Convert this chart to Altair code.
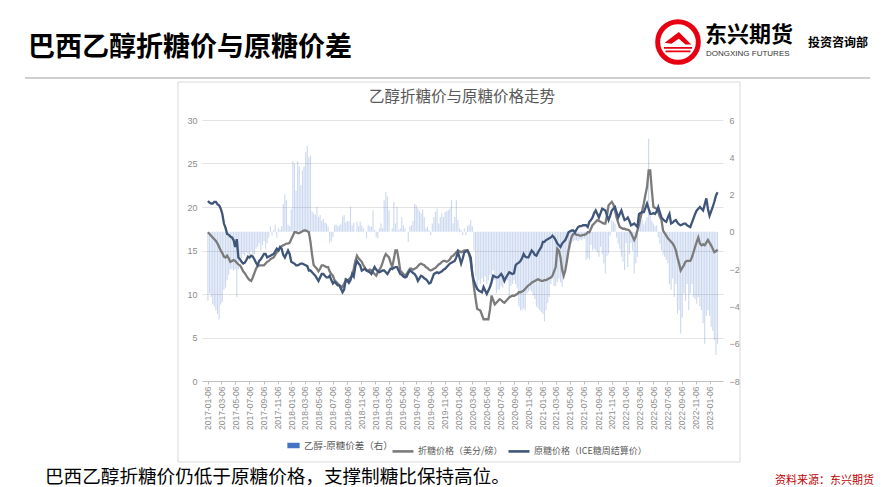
import altair as alt
import pandas as pd

# ---------------- data (weekly, Friday) ----------------
first_week = "2017-01-06"

raw_sugar = [
    20.7, 20.5, 20.4, 20.4, 20.6, 20.6, 20.3, 20.2, 19.8, 19.2,
    18.1, 17.6, 16.9, 16.8, 16.6, 16.5, 16.2, 15.4, 16.3, 14.2,
    14.0, 13.7, 13.5, 13.6, 13.9, 14.3, 14.2, 14.4, 14.3, 14.0,
    13.6, 13.3, 13.8, 14.0, 14.3, 14.6, 14.6, 14.2, 14.3, 14.4,
    14.5, 14.6, 14.9, 15.2, 15.0, 15.4, 15.2, 14.5, 14.2, 14.6,
    15.0, 14.6, 13.7, 13.6, 13.5, 13.3, 13.3, 13.4, 13.5, 13.5,
    13.4, 13.3, 13.2, 12.7, 12.7, 12.5, 12.3, 12.1, 11.8, 11.5,
    11.9, 12.3, 12.3, 12.1, 11.9, 11.9, 12.1, 11.6, 11.2, 11.4,
    11.2, 11.0, 11.0, 10.6, 10.2, 10.5, 11.7, 11.6, 11.3, 11.6,
    12.3, 12.0, 13.2, 13.8, 13.5, 13.3, 12.7, 12.8, 12.9, 12.7,
    12.6, 12.5, 12.3, 12.7, 13.1, 12.8, 12.6, 12.5, 12.6, 12.7,
    12.7, 12.5, 12.3, 12.6, 12.9, 12.9, 13.0, 13.1, 13.1, 12.7,
    12.3, 12.2, 12.0, 11.9, 12.0, 12.4, 12.7, 12.6, 12.4, 12.3,
    12.0, 11.5, 11.8, 12.1, 12.0, 11.8, 11.7, 11.5, 11.2, 11.3,
    11.8, 12.3, 12.4, 12.5, 12.4, 12.5, 12.6, 12.8, 12.9, 13.1,
    13.3, 13.5, 13.6, 13.7, 13.8, 14.2, 14.8, 14.2, 13.5, 14.1,
    14.8, 14.9, 15.0, 14.6, 14.2, 12.3, 11.5, 11.0, 10.6, 10.4,
    10.3, 10.2, 10.8, 10.4, 10.0, 10.4, 10.8, 11.4, 12.1, 12.0,
    11.9, 11.9, 12.1, 12.3, 12.0, 11.5, 11.9, 12.2, 12.5, 12.4,
    12.3, 12.4, 13.3, 13.5, 13.6, 13.8, 14.1, 14.6, 14.3, 14.2,
    14.2, 14.6, 15.0, 14.8, 14.5, 14.4, 14.8, 15.1, 15.4, 16.0,
    16.0, 16.2, 16.3, 16.4, 16.5, 16.7, 16.5, 16.2, 15.8, 15.6,
    15.4, 15.8, 16.0, 16.2, 16.6, 17.1, 17.2, 17.3, 17.3, 17.1,
    17.4, 17.7, 17.8, 17.8, 17.9, 17.9, 17.9, 17.7, 18.3, 18.5,
    18.8, 19.3, 19.6, 19.2, 18.8, 19.3, 19.8, 19.7, 19.6, 19.0,
    18.5, 19.0, 19.6, 19.8, 20.0, 19.4, 18.8, 19.2, 19.6, 19.0,
    18.5, 18.6, 18.8, 18.4, 17.9, 18.0, 18.1, 17.9, 17.7, 19.2,
    19.3, 19.4, 19.4, 19.9, 20.4, 19.8, 19.2, 19.2, 19.3, 19.2,
    19.5, 20.0, 19.4, 18.8, 18.6, 18.4, 18.3, 18.8, 19.2, 18.1,
    18.2, 18.4, 18.5, 18.2, 18.0, 17.9, 18.0, 18.1, 18.1, 17.9,
    17.8, 17.7, 18.2, 18.7, 19.2, 19.6, 19.8, 20.0, 19.8, 19.6,
    20.3, 21.0, 19.8, 19.0, 19.5, 20.0, 20.6, 21.3, 21.7,
]

ethanol_parity = [
    17.1, 16.9, 16.7, 16.5, 16.3, 16.1, 15.8, 15.4, 15.0, 14.7,
    14.3, 14.2, 14.4, 14.1, 13.7, 13.8, 13.9, 13.8, 13.6, 13.4,
    13.3, 13.0, 12.6, 12.4, 12.1, 11.8, 11.6, 11.5, 11.9, 12.4,
    12.9, 13.2, 13.3, 13.3, 13.3, 13.3, 13.5, 13.7, 13.8, 14.0,
    14.1, 14.2, 14.5, 14.8, 15.0, 15.3, 15.5, 15.6, 15.7, 15.8,
    15.8, 15.9, 16.3, 16.7, 17.1, 17.1, 17.0, 17.0, 17.1, 17.2,
    17.3, 17.3, 17.2, 17.1, 16.0, 14.5, 13.3, 13.1, 12.9, 12.6,
    12.9, 13.3, 13.3, 13.2, 13.1, 13.1, 12.6, 12.3, 12.1, 11.6,
    11.4, 11.2, 11.0, 10.9, 10.8, 11.2, 11.5, 11.4, 11.7, 11.9,
    12.1, 12.9, 13.8, 14.4, 14.1, 13.9, 13.7, 13.3, 13.0, 12.7,
    12.7, 12.8, 12.7, 12.5, 12.3, 12.1, 12.5, 12.8, 13.1, 13.6,
    14.2, 14.6, 14.4, 14.2, 13.6, 13.1, 14.0, 15.0, 15.0, 14.0,
    12.7, 12.5, 12.3, 12.1, 12.3, 12.6, 12.9, 12.9, 12.8, 12.9,
    13.0, 13.2, 13.4, 13.5, 13.4, 13.3, 13.1, 13.0, 12.8, 12.7,
    12.8, 12.9, 13.0, 13.2, 13.4, 13.5, 13.7, 13.8, 13.8, 13.7,
    13.8, 14.0, 14.3, 14.4, 14.6, 14.8, 15.0, 14.9, 14.8, 14.9,
    15.0, 15.0, 15.0, 14.6, 13.7, 12.3, 10.8, 9.5, 8.3, 8.2,
    8.1, 7.6, 7.1, 7.1, 7.1, 7.1, 8.2, 9.8, 9.3, 8.8,
    9.0, 9.2, 9.4, 9.3, 9.1, 9.0, 9.2, 9.4, 9.6, 9.7,
    9.8, 9.8, 9.9, 10.0, 10.2, 10.2, 10.3, 10.4, 10.6, 10.8,
    11.0, 11.1, 11.3, 11.4, 11.5, 11.6, 11.7, 11.6, 11.5, 11.5,
    11.6, 11.6, 11.7, 11.8, 11.9, 12.1, 12.6, 13.1, 15.2, 15.0,
    14.2, 12.8, 12.1, 12.7, 13.8, 15.0, 15.9, 16.6, 16.9, 16.9,
    16.8, 16.8, 16.7, 16.7, 16.8, 16.8, 16.9, 17.1, 17.1, 17.5,
    17.9, 18.1, 18.3, 18.5, 18.4, 18.3, 18.2, 18.1, 18.1, 19.0,
    20.2, 20.4, 20.6, 20.3, 19.6, 18.8, 18.2, 17.7, 17.6, 17.5,
    17.5, 17.4, 17.4, 17.3, 17.0, 16.6, 16.2, 16.6, 17.3, 18.0,
    18.8, 19.6, 20.4, 21.4, 22.3, 24.2, 24.2, 21.9, 20.0, 19.9,
    19.8, 19.4, 18.9, 18.5, 17.3, 17.0, 16.7, 16.4, 16.2, 16.0,
    15.8, 15.5, 15.0, 14.2, 13.5, 12.7, 13.0, 13.3, 13.7, 13.8,
    13.8, 13.8, 14.2, 14.8, 15.4, 16.0, 16.5, 15.8, 15.6, 15.7,
    15.6, 15.9, 16.2, 15.9, 15.6, 15.2, 14.8, 14.9, 15.1,
]

spread = [
    -3.7, -3.3, -3.5, -3.85, -4.0, -4.2, -4.4, -4.7, -3.9, -3.75,
    -3.1, -3.0, -2.6, -2.3, -2.0, -2.0, -2.1, -2.0, -3.5, -2.0,
    -1.6, -1.4, -1.2, -1.3, -1.1, -1.2, -1.3, -1.0, -1.4, -1.2,
    -0.9, -0.8, -0.6, -1.0, -0.7, -0.5, -0.9, -0.6, -0.3, 0.3,
    -0.2, 0.1, 0.4, -0.3, 0.2, 0.1, 0.3, 1.5, 2.0, 1.7,
    0.4, 0.3, 1.2, 3.8, 3.65, 2.2, 3.8, 3.5, 2.5, 3.3,
    3.5, 4.3, 4.6, 4.0, 4.1, 1.1, 1.0, 0.9, 1.35, 0.8,
    0.9, 0.6, 0.7, 0.5, 0.45, 0.3, -0.6, -0.5, -0.27, 0.36,
    0.4, 0.3, 0.36, 0.45, 0.8, 0.9, 0.5, 0.6, 0.55, 1.35,
    0.36, 0.5, 0.0, 0.54, 0.3, 0.54, 0.36, 0.2, 0.0, -0.36,
    0.36, 0.3, 0.27, 1.16, 0.1, -0.27, -0.36, 0.18, 0.45, 0.2,
    1.7, 2.15, 1.9, 1.16, 0.0, 0.2, 1.6, 0.45, 1.34, 0.1,
    0.2, 0.8, 0.36, 0.2, 0.0, -0.54, 0.27, 0.36, 0.6, 1.5,
    1.43, 1.25, 1.1, 1.0, 1.2, 0.8, 0.18, 0.27, 0.1, -0.18,
    0.45, 0.8, 1.07, 1.25, 0.45, 0.8, 1.0, 0.8, 1.07, 1.1,
    1.16, 1.25, 1.7, 0.45, 0.8, 1.7, 0.63, 0.18, 0.1, -0.18,
    0.2, -0.18, 0.3, 0.4, 0.63, 0.3, -1.0, -2.4, -3.1, -2.6,
    -2.8, -2.5, -2.7, -2.4, -2.8, -2.6, -2.3, -2.5, -2.05, -2.6,
    -3.3, -3.1, -3.1, -2.9, -3.0, -2.7, -2.4, -2.6, -3.5, -2.9,
    -2.8, -2.6, -2.8, -3.0, -4.0, -4.2, -4.2, -4.1, -4.2, -3.3,
    -3.2, -3.1, -3.2, -3.4, -3.6, -4.0, -4.1, -4.2, -4.3, -4.4,
    -4.8, -4.2, -3.8, -3.5, -2.8, -2.5, -2.9, -2.9, -2.7, -2.5,
    -2.7, -2.95, -2.4, -1.9, -1.5, -1.16, -0.9, -0.63, -0.5, -0.45,
    -0.45, -0.5, -0.4, -0.45, -0.4, -0.36, -1.5, -1.4, -1.5, -0.7,
    -1.0, -0.9, -1.0, -1.1, -1.34, -0.8, -1.2, -1.7, -2.24, -1.3,
    -1.16, -0.2, 0.63, 0.54, 0.45, -0.3, -0.63, -0.9, -1.34, -1.6,
    -2.05, -0.6, -1.88, -1.2, -0.6, -1.0, -2.24, -1.7, -1.34, 0.45,
    0.5, 0.63, 0.4, 0.55, 0.8, 5.0, 1.16, 0.6, 0.45, 0.3,
    0.36, -0.3, -0.63, -1.0, -1.2, -1.34, -1.5, -1.7, -2.8, -3.1,
    -2.5, -3.5, -2.8, -4.4, -4.2, -5.45, -4.6, -3.3, -3.7, -2.8,
    -4.2, -3.3, -2.8, -3.5, -3.6, -3.85, -3.5, -4.0, -4.2, -4.9,
    -6.0, -4.5, -4.2, -4.5, -5.1, -5.3, -5.8, -6.6, -6.0,
]

tick_labels = [
    "2017-01-06", "2017-03-06", "2017-05-06", "2017-07-06", "2017-09-06", "2017-11-06",
    "2018-01-06", "2018-03-06", "2018-05-06", "2018-07-06", "2018-09-06", "2018-11-06",
    "2019-01-06", "2019-03-06", "2019-05-06", "2019-07-06", "2019-09-06", "2019-11-06",
    "2020-01-06", "2020-03-06", "2020-05-06", "2020-07-06", "2020-09-06", "2020-11-06",
    "2021-01-06", "2021-03-06", "2021-05-06", "2021-07-06", "2021-09-06", "2021-11-06",
    "2022-01-06", "2022-03-06", "2022-05-06", "2022-07-06", "2022-09-06", "2022-11-06",
    "2023-01-06",
]

s_bar = "乙醇-原糖价差（右）"
s_parity = "折糖价格（美分/磅）"
s_raw = "原糖价格（ICE糖周结算价）"

left_ticks = [0, 5, 10, 15, 20, 25, 30]
right_ticks = [-8, -6, -4, -2, 0, 2, 4, 6]

# ---------------- tables ----------------
dates = pd.date_range(first_week, periods=len(raw_sugar), freq="7D")
df = pd.DataFrame({"date": dates, "spread": spread, "series": s_bar})
lines_df = pd.concat([
    pd.DataFrame({"date": dates, "v": ethanol_parity, "series": s_parity}),
    pd.DataFrame({"date": dates, "v": raw_sugar, "series": s_raw}),
])

CJK = "Noto Sans CJK SC"
NUM = "Liberation Sans"
LBL = "#8C8C8C"

x_scale = alt.Scale(domain=[alt.DateTime(year=2017, month=1, date=2),
                            alt.DateTime(year=2023, month=2, date=12)])
x_vals = [alt.DateTime(year=int(s[:4]), month=int(s[5:7]), date=int(s[8:10])) for s in tick_labels]
x_axis = alt.Axis(values=x_vals, format="%Y-%m-%d", labelAngle=-90, labelOverlap=False,
                  labelFlush=False, labelFont=NUM, labelFontSize=8.5, labelColor=LBL,
                  labelPadding=2, tickSize=3, tickColor="#BFBFBF", domainColor="#BFBFBF",
                  grid=False, title=None, zindex=1)

bars = alt.Chart(df).mark_bar(width=1.1, opacity=0.28).encode(
    x=alt.X("date:T", scale=x_scale, axis=x_axis),
    y=alt.Y("spread:Q", scale=alt.Scale(domain=[-8, 6], nice=False, zero=True),
            axis=alt.Axis(orient="right", values=right_ticks, grid=False, domain=False,
                          ticks=False, labelFont=NUM, labelFontSize=9, labelColor=LBL,
                          labelPadding=6, title=None, zindex=1)),
    fill=alt.Fill("series:N", scale=alt.Scale(domain=[s_bar], range=["#4472C4"]),
                  legend=alt.Legend(orient="none", legendX=85, legendY=319, title=None,
                                    direction="horizontal",
                                    symbolType="M-1,-0.45L1,-0.45L1,0.45L-1,0.45Z",
                                    symbolSize=150, symbolOpacity=1, symbolStrokeWidth=0,
                                    labelFont=CJK, labelFontSize=9.5, labelColor="#595959")),
)

stroke_scale = alt.Scale(domain=[s_parity, s_raw], range=["#7B7B7B", "#3F5579"])
line_legend = alt.Legend(orient="none", legendX=189, legendY=319, title=None,
                         direction="horizontal", symbolType="stroke", symbolSize=440,
                         symbolStrokeWidth=2.6, columnPadding=0, labelOffset=3,
                         labelFont=CJK, labelFontSize=9, labelColor="#595959")
y_left = alt.Y("v:Q", scale=alt.Scale(domain=[0, 30], nice=False),
               axis=alt.Axis(orient="left", values=left_ticks, grid=True, gridColor="#E3E3E3",
                             domain=False, ticks=False, labelFont=NUM, labelFontSize=9,
                             labelColor=LBL, labelPadding=5, title=None))

line_p = alt.Chart(lines_df).transform_filter(alt.datum.series == s_parity).mark_line(
    strokeWidth=2.3).encode(x=alt.X("date:T", scale=x_scale, axis=x_axis), y=y_left,
                            stroke=alt.Stroke("series:N", scale=stroke_scale, legend=line_legend))
line_r = alt.Chart(lines_df).transform_filter(alt.datum.series == s_raw).mark_line(
    strokeWidth=2.3).encode(x=alt.X("date:T", scale=x_scale, axis=x_axis), y=y_left,
                            stroke=alt.Stroke("series:N", scale=stroke_scale, legend=line_legend))
lines = alt.layer(line_p, line_r)

one = pd.DataFrame({"a": [0]})
box = alt.Chart(one).mark_rect(fillOpacity=0, stroke="#D9D9D9", strokeWidth=1).encode(
    x=alt.value(-24), x2=alt.value(538), y=alt.value(-38), y2=alt.value(342))
head_rule = alt.Chart(one).mark_rule(stroke="#BFBFBF", strokeWidth=1.5).encode(
    x=alt.value(-177), x2=alt.value(668), y=alt.value(-42))


def txt(s, x, y, size, color="#000000", weight="normal", font=CJK, align="left", baseline="middle"):
    return alt.Chart(one).mark_text(text=s, align=align, baseline=baseline, fontSize=size,
                                    font=font, fontWeight=weight, color=color).encode(
        x=alt.value(x), y=alt.value(y))


head_title = txt("巴西乙醇折糖价与原糖价差", -174, -72, 27, weight="bold")
chart_title = txt("乙醇折糖价与原糖价格走势", 260, -23, 15.5, color="#595959", align="center")
footer = txt("巴西乙醇折糖价仍低于原糖价格，支撑制糖比保持高位。", -157, 357, 18.6)
red_note = txt("资料来源：东兴期货", 573, 366, 11, color="#C00000", baseline="bottom")
logo_cn = txt("东兴期货", 503, -85, 22, weight="bold")
logo_en = txt("DONGXING FUTURES", 504, -70, 8, color="#333333", font=NUM, baseline="top")
logo_dept = txt("投资咨询部", 606, -77, 12, weight="bold")
logo_ring = alt.Chart(one).mark_point(shape="circle", filled=False, size=1650, stroke="#E60012",
                                      strokeWidth=5, opacity=1).encode(
    x=alt.value(476), y=alt.value(-78))
logo_mark = alt.Chart(one).mark_point(
    shape="M-0.8,0.05L0.05,-0.6L0.8,0.15L0.45,0.15L0.05,-0.2L-0.4,0.1ZM-0.85,0.3H0.85V0.4H-0.85ZM-0.75,0.52H0.75V0.62H-0.75Z",
    filled=True, size=1100, fill="#E60012", opacity=1, strokeWidth=0).encode(
    x=alt.value(476), y=alt.value(-78))

plot = alt.layer(bars, lines).resolve_scale(y="independent")

chart = alt.layer(
    box, plot, head_rule, head_title, chart_title, footer, red_note,
    logo_ring, logo_mark, logo_cn, logo_en, logo_dept,
).properties(
    width=521, height=261,
    padding={"left": 202, "top": 120, "right": 159, "bottom": 106},
    autosize=alt.AutoSizeParams(type="none"),
    background="white",
).configure_view(stroke=None)

chart.save("out.html", embed_options={"renderer": "svg", "actions": False})
